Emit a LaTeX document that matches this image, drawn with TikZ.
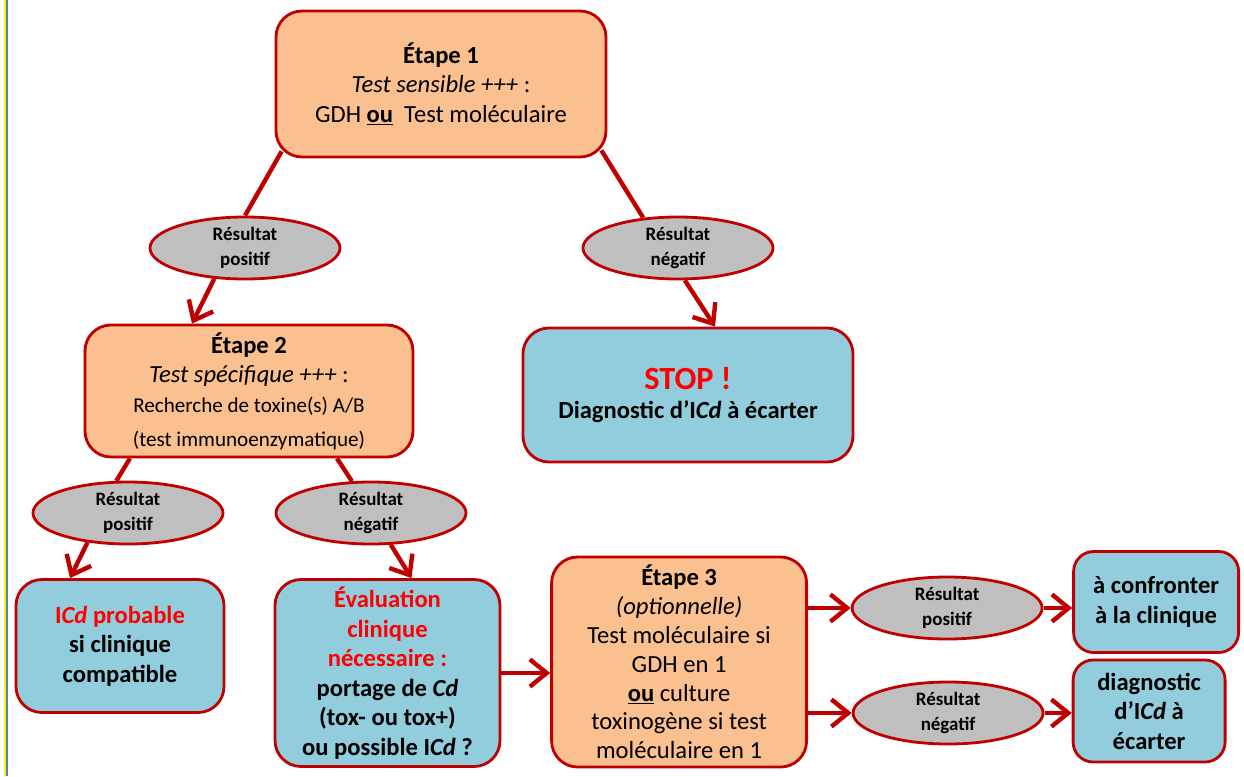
\documentclass[tikz,border=0pt]{standalone}
\usepackage{fontspec}
\setmainfont{Carlito}
\usepackage{xcolor}
\usepackage{tikz}
\usetikzlibrary{shapes,arrows.meta,positioning}
\definecolor{boxred}{RGB}{192,0,0}
\definecolor{stepfill}{RGB}{250,192,143}
\definecolor{endfill}{RGB}{146,205,221}
\definecolor{ovalfill}{RGB}{191,191,191}
\definecolor{edgeblue}{RGB}{79,129,189}
\tikzstyle{StepBox} = [rectangle, rounded corners=0.65cm, draw=boxred, line width=0.07cm, fill=stepfill, inner sep=0pt, font=\fontsize{17.5}{21}\selectfont]
\tikzstyle{EndBox} = [StepBox, fill=endfill, font=\bfseries\fontsize{17.5}{21}\selectfont]
\tikzstyle{Oval} = [ellipse, draw=boxred, line width=0.07cm, fill=ovalfill, minimum width=4.75cm, minimum height=1.55cm, inner sep=0pt, font=\bfseries\fontsize{13.5}{17.5}\selectfont]
\tikzstyle{link} = [draw=boxred, line width=0.11cm]
\tikzstyle{arrow} = [link, -{Straight Barb[length=0.42cm, width=0.68cm]}]

\begin{document}
\begin{tikzpicture}[every text node part/.style={align=center}]
\useasboundingbox (-11.025,-17.3) rectangle (20.075,2.1);
% bord de page
\fill[yellow] (-10.925,-17.3) rectangle (-10.875,2.1);
\fill[edgeblue] (-10.875,-17.3) rectangle (-10.83,2.1);

\node (Etape1)[StepBox, minimum width=8.25cm, minimum height=3.65cm]{\textbf{Étape 1}\\
\textit{Test sensible +++} :\\
GDH \underline{\textbf{ou}}\ \ Test moléculaire
};

\node (Pos1)[Oval, below of = Etape1, xshift=-4.9cm, yshift=-3.1cm]{Résultat\\positif};
\node (Neg1)[Oval, below of = Etape1, xshift=5.925cm, yshift=-3.1cm]{Résultat\\négatif};

\node (Etape2)[StepBox, below of = Pos1, xshift=0.1cm, yshift=-2.575cm, minimum width=8.2cm, minimum height=3.3cm]{\textbf{Étape 2}\\
\textit{Test spécifique +++} :\\
{\fontsize{15}{18}\selectfont Recherche de toxine(s) A/B}\\[3pt]
{\fontsize{15}{18}\selectfont (test immunoenzymatique)}
};

\node (Stop)[EndBox, below of = Neg1, xshift=0.25cm, yshift=-2.675cm, minimum width=8.25cm, minimum height=3.35cm]{{\color{red}\fontsize{23}{27}\selectfont STOP !}\\
Diagnostic d’I\textit{Cd} à écarter
};

\node (Pos2)[Oval, below of = Etape2, xshift=-3.025cm, yshift=-2.05cm]{Résultat\\positif};
\node (Neg2)[Oval, below of = Etape2, xshift=3.05cm, yshift=-2.05cm]{Résultat\\négatif};

\node (ICd)[EndBox, below of = Pos2, xshift=-0.2cm, yshift=-2.325cm, minimum width=5.2cm, minimum height=3.325cm]{\textcolor{red}{I\textit{Cd} probable}\\
si clinique\\
compatible
};

\node (Eval)[EndBox, below of = Neg2, xshift=0.4125cm, yshift=-3cm, minimum width=5.625cm, minimum height=4.675cm]{\textcolor{red}{Évaluation}\\
\textcolor{red}{clinique}\\
\textcolor{red}{nécessaire :}\\
portage de \textit{Cd}\\
(tox- ou tox+)\\
ou possible I\textit{Cd} ?
};

\node (Etape3)[StepBox, right of = Eval, xshift=6.29cm, yshift=0.275cm, minimum width=6.375cm, minimum height=5.25cm, font=\fontsize{17.5}{20.5}\selectfont]{\textbf{Étape 3}\\
\textit{(optionnelle)}\\
Test moléculaire si\\
GDH en 1\\
\underline{\textbf{ou}} culture\\
toxinogène si test\\
moléculaire en 1
};

\node (Pos3)[Oval, right of = Etape3, xshift=5.7cm, yshift=1.35cm]{Résultat\\positif};
\node (Neg3)[Oval, right of = Etape3, xshift=5.725cm, yshift=-1.275cm]{Résultat\\négatif};

\node (Conf)[EndBox, right of = Pos3, xshift=4.225cm, yshift=0.15cm, minimum width=4.125cm, minimum height=2.525cm, rounded corners=0.5cm]{à confronter\\
à la clinique
};

\node (Diag)[EndBox, right of = Neg3, xshift=4.025cm, yshift=0.05cm, minimum width=3.8cm, minimum height=2.55cm, rounded corners=0.5cm]{diagnostic\\
d’I\textit{Cd} à\\
écarter
};

\draw[link]([xshift=0.175cm,yshift=0.175cm]Etape1.south west)--(Pos1.north);
\draw[arrow](Pos1.225)--([xshift=-1.425cm]Etape2.north);
\draw[link]([xshift=-0.15cm,yshift=0.2cm]Etape1.south east)--(Neg1.139);
\draw[arrow](Neg1.-78)--([xshift=0.675cm]Stop.north);

\draw[link]([xshift=-2.975cm]Etape2.south)--(Pos2.110);
\draw[arrow](Pos2.216)--([xshift=-1.25cm]ICd.north);
\draw[link]([xshift=2.2cm]Etape2.south)--(Neg2.121);
\draw[arrow](Neg2.-58)--([xshift=0.6cm]Eval.north);

\draw[arrow](Eval.east)--(Eval.east -| Etape3.west);
\draw[arrow](Etape3.east |- Pos3.west)--(Pos3.west);
\draw[arrow](Etape3.east |- Neg3.west)--(Neg3.west);
\draw[arrow](Pos3.east)--(Pos3.east -| Conf.west);
\draw[arrow](Neg3.east)--(Neg3.east -| Diag.west);

\end{tikzpicture}
\end{document}
